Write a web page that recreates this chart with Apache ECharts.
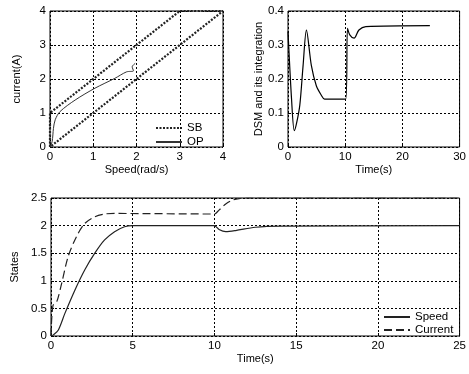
<!DOCTYPE html>
<html>
<head>
<meta charset="utf-8">
<script src="https://cdn.jsdelivr.net/npm/echarts@6/dist/echarts.min.js"></script>
<style>
  html, body { margin: 0; padding: 0; background: #fff; }
  #chart { width: 469px; height: 374px; }
</style>
</head>
<body>
<div id="chart"></div>
<script>
// Phase plane: switching boundary (SB) and operating path (OP)
const sbPoints = [[0, 0], [0, 1], [3, 4], [4, 4], [0, 0]];
const opPoints = [
  [0, 0], [0.05, 0.16], [0.08, 0.55], [0.12, 0.8], [0.23, 1.04], [0.58, 1.38],
  [1.04, 1.73], [1.5, 2.02], [1.77, 2.21], [1.93, 2.24], [1.9, 2.36], [1.97, 2.46]
];

// DSM and its integration over time
const dsmPoints = [
  [0, 0.34], [0.63, 0.138], [1.1, 0.048], [1.5, 0.07], [2.07, 0.124], [2.64, 0.24],
  [3.22, 0.344], [4.08, 0.24], [4.95, 0.18], [5.8, 0.153], [6.4, 0.141], [10.1, 0.141],
  [10.4, 0.349], [10.8, 0.33], [11.55, 0.32], [12.4, 0.344], [13.6, 0.354], [24.8, 0.357]
];

// States over time
const speedPoints = [
  [0, 0], [0.14, 0.02], [0.45, 0.11], [0.85, 0.41], [1.46, 0.83], [2.07, 1.2],
  [2.68, 1.5], [3.28, 1.74], [3.89, 1.89], [4.5, 1.98], [5.0, 2.0], [9.98, 2.0],
  [10.28, 1.93], [10.69, 1.89], [11.3, 1.91], [12.5, 1.97], [14.1, 1.99], [25, 2.0]
];
const currentPoints = [
  [0, 0], [0.12, 0.55], [0.35, 0.62], [0.65, 0.95], [1.05, 1.44], [1.56, 1.8],
  [2.07, 2.04], [2.68, 2.16], [3.28, 2.21], [3.9, 2.22], [9.95, 2.21], [10.0, 2.21],
  [10.28, 2.28], [10.69, 2.39], [11.1, 2.46], [11.5, 2.49], [12, 2.5], [25, 2.5]
];

const font = 'Liberation Sans, Arial, sans-serif';
const black = '#000';

function axis(min, max, interval, name, gap, extra) {
  return Object.assign({
    type: 'value', min: min, max: max, interval: interval,
    name: name, nameLocation: 'middle', nameGap: gap,
    nameTextStyle: { color: black, fontFamily: font, fontSize: 11 },
    axisLine: { show: false },
    axisTick: { show: true, inside: true, length: 3, lineStyle: { color: black } },
    axisLabel: { color: black, fontFamily: font, fontSize: 11.5, margin: 4 },
    splitLine: { show: true, lineStyle: { color: black, type: [2, 2], width: 1 } }
  }, extra || {});
}

const legendBase = {
  orient: 'vertical', itemWidth: 26, itemHeight: 8,
  itemStyle: { opacity: 0 },
  textStyle: { color: black, fontFamily: font, fontSize: 11.5 }
};

const chart = echarts.init(document.getElementById('chart'));
chart.setOption({
  backgroundColor: '#fff',
  animation: false,
  grid: [
    { left: 50, top: 11, width: 173, height: 136 },
    { left: 288, top: 11, width: 174, height: 136 },
    { left: 51, top: 198, width: 411, height: 138 }
  ].map(g => Object.assign(g, { show: true, borderColor: black, borderWidth: 1, backgroundColor: '#fff' })),
  xAxis: [
    axis(0, 4, 1, 'Speed(rad/s)', 17, { gridIndex: 0 }),
    axis(0, 30, 10, 'Time(s)', 17, { gridIndex: 1 }),
    axis(0, 25, 5, 'Time(s)', 17, { gridIndex: 2 })
  ],
  yAxis: [
    axis(0, 4, 1, 'current(A)', 28, { gridIndex: 0 }),
    axis(0, 0.4, 0.1, 'DSM and its integration', 24, { gridIndex: 1 }),
    axis(0, 2.5, 0.5, 'States', 30, { gridIndex: 2 })
  ],
  legend: [
    Object.assign({ data: ['SB', 'OP'], left: 150, top: 117, itemGap: 2 }, legendBase),
    Object.assign({ data: ['Speed', 'Current'], left: 378, top: 306, itemGap: 1 }, legendBase)
  ],
  series: [
    {
      name: 'SB', type: 'line', xAxisIndex: 0, yAxisIndex: 0, data: sbPoints,
      showSymbol: false, symbol: 'none',
      lineStyle: { color: '#222', width: 2.2, type: [2, 1.5] }, itemStyle: { color: '#222' }
    },
    {
      name: 'OP', type: 'line', xAxisIndex: 0, yAxisIndex: 0, data: opPoints,
      smooth: 0.3, showSymbol: false, symbol: 'none',
      lineStyle: { color: '#333', width: 1 }, itemStyle: { color: '#333' }
    },
    {
      name: 'DSM', type: 'line', xAxisIndex: 1, yAxisIndex: 1, data: dsmPoints,
      smooth: 0.3, showSymbol: false, symbol: 'none',
      lineStyle: { color: black, width: 1.2 }
    },
    {
      name: 'Speed', type: 'line', xAxisIndex: 2, yAxisIndex: 2, data: speedPoints,
      smooth: 0.3, showSymbol: false, symbol: 'none',
      lineStyle: { color: '#222', width: 1.2 }, itemStyle: { color: '#222' }
    },
    {
      name: 'Current', type: 'line', xAxisIndex: 2, yAxisIndex: 2, data: currentPoints,
      smooth: 0.3, showSymbol: false, symbol: 'none',
      lineStyle: { color: '#222', width: 1.2, type: [8, 4] }, itemStyle: { color: '#222' }
    }
  ]
});
</script>
</body>
</html>
